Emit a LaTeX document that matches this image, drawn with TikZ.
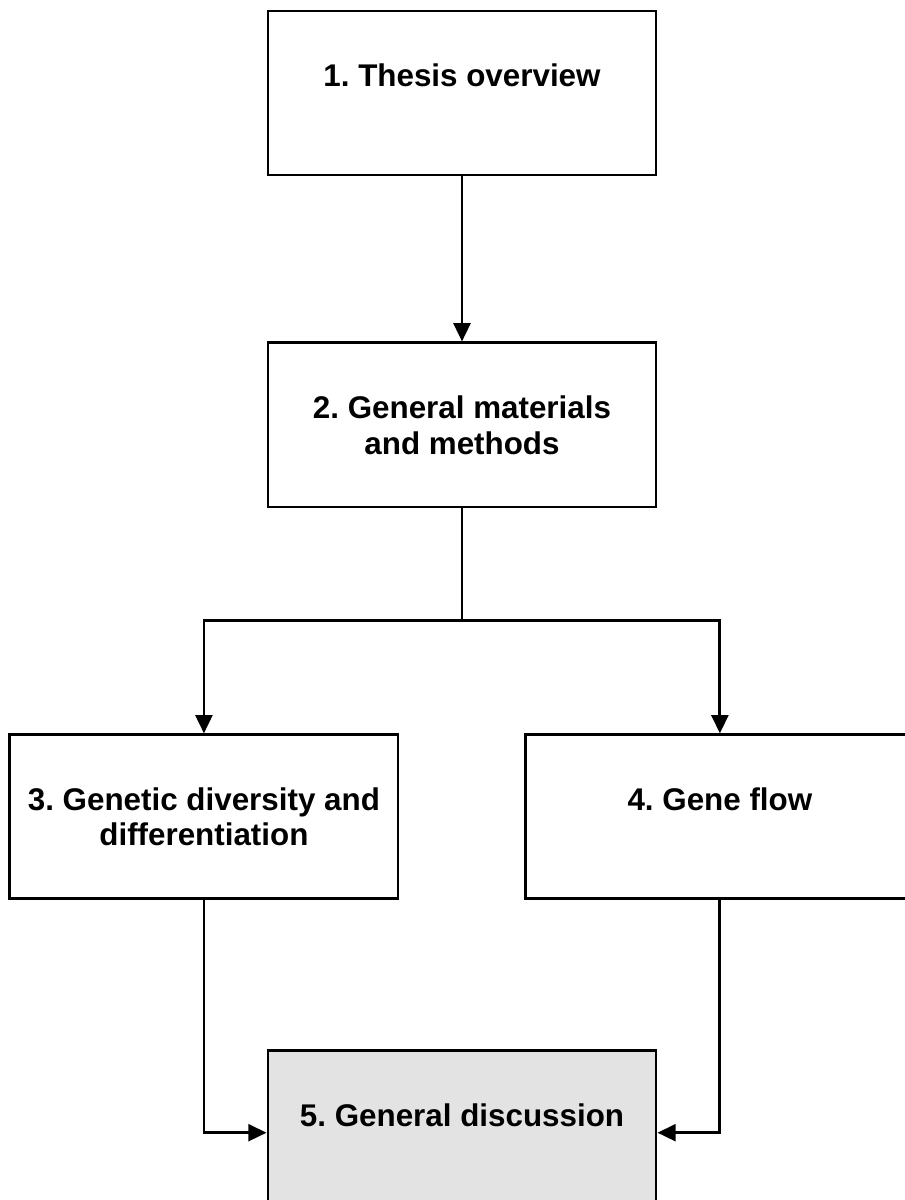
\documentclass[tikz,border=0pt]{standalone}
\usepackage{fontspec}
\setmainfont{Liberation Sans}
\frenchspacing
\usetikzlibrary{arrows.meta}
\usetikzlibrary{positioning}

\begin{document}
\begin{tikzpicture}[x=0.025cm,y=-0.025cm,>={Triangle[length=13pt,width=12pt]},line width=2pt,
  chap/.style={draw,rectangle,minimum width=9.7cm,minimum height=4.1cm,align=center,inner sep=0pt,
    font=\fontsize{22.3}{25.5}\selectfont\bfseries}]
\path[use as bounding box] (0,0) rectangle (904,1200);
\path node[chap] at (462,93) (t) {1. Thesis overview\\\mbox{}};
\path node[chap, below=4.125cm of t] (gm) {2. General materials\\and methods};
\path[->] (t) edge (gm);

\coordinate[below=2.8cm of gm.south] (sp);
\path node[chap, below=5.625cm of gm, xshift=-6.45cm] (gd) {3. Genetic diversity and\\differentiation};
\path node[chap, right=3.125cm of gd] (gf) {4. Gene flow\\\mbox{}};
\path[draw] (gm.south) -- (sp);
\path[->,draw] (sp) -| (gd.north);
\path[->,draw] (sp) -| (gf.north);

\path node[chap, fill=gray!22, below=3.725cm of gd, xshift=6.45cm] (disc) {5. General discussion\\\mbox{}};
\path[->,draw] (gd.south) |- (disc.west);
\path[->,draw] (gf.south) |- (disc.east);
\end{tikzpicture}
\end{document}
